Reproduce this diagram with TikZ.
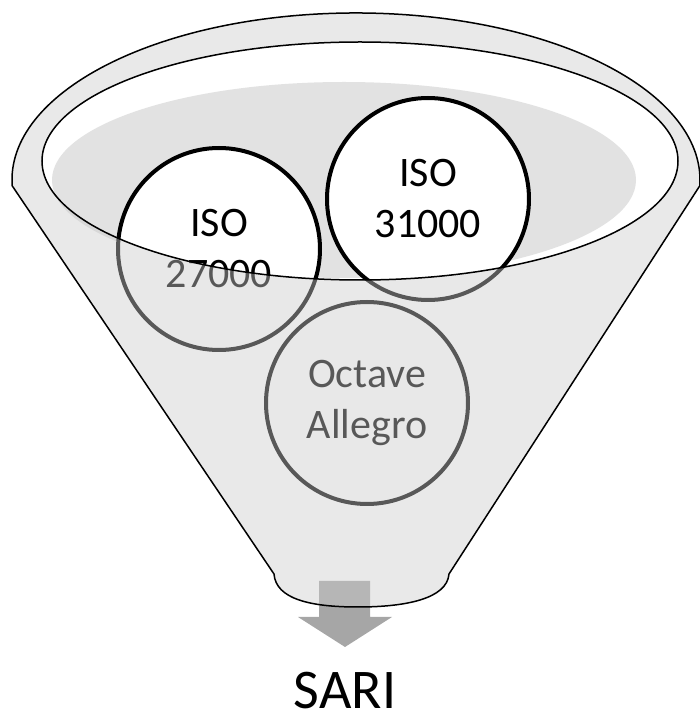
\documentclass[tikz,border=0pt]{standalone}
\usepackage{fontspec}
\setmainfont{Carlito}
\definecolor{funnelgrey}{HTML}{CCCCCC}
\definecolor{watergrey}{HTML}{E2E2E2}
\definecolor{arrowgrey}{HTML}{A6A6A6}
\tikzset{disc/.style={circle,draw=black,line width=4pt,fill=white,minimum size=202pt,inner sep=0pt,align=center,font=\fontsize{42}{51}\selectfont}}

\begin{document}
\begin{tikzpicture}[x=1pt,y=1pt]
    \useasboundingbox (0,0) rectangle (700,724);
    \coordinate (rimL) at (12.2,538.2);
    \coordinate (bowl) at (360,563);
    \fill[white] (bowl) ellipse [x radius=318, y radius=119];
    \fill[watergrey] (344,544) ellipse [x radius=292, y radius=98];
    \fill[arrowgrey] (319,143) -- (370,143) -- (370,107) -- (392,107)
      -- (345,77) -- (298,107) -- (319,107) -- cycle;
    \node[disc] (iso27) at (219,475) {ISO\\27000};
    \node[disc] (iso31) at (428,525) {ISO\\31000};
    \node[disc] (octave) at (367,321) {Octave\\Allegro};
    \path[fill=funnelgrey,fill opacity=0.435,draw=black,line width=1.5pt,even odd rule]
      (rimL) arc[start angle=182,end angle=-2,x radius=344,y radius=167]
      -- (449,150) .. controls (447,125) and (405,117) .. (358,117)
      .. controls (310,117) and (276,125) .. (274,150) -- cycle
      (bowl) ellipse [x radius=318, y radius=119];
    \node[font=\fontsize{56}{67}\selectfont,anchor=base,inner sep=0pt] (sari) at (345,16) {SARI};
  \end{tikzpicture}
\end{document}
